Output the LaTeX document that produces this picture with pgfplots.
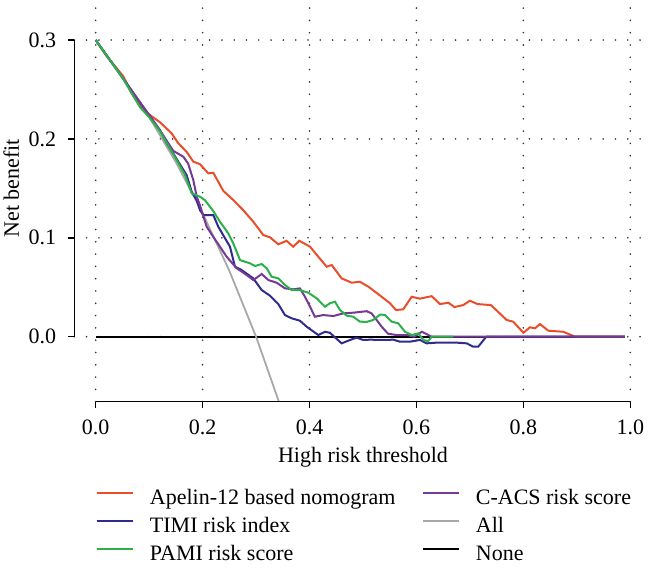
\documentclass[border=0pt]{standalone}
\usepackage{fontspec}
\setmainfont{Liberation Serif}
\usepackage{pgfplots}
\pgfplotsset{compat=1.18}
\definecolor{cred}{RGB}{232,78,42}
\definecolor{cblue}{RGB}{48,44,142}
\definecolor{cgreen}{RGB}{44,176,74}
\definecolor{cpurple}{RGB}{118,58,148}
\definecolor{cgray}{RGB}{168,168,168}
\newcommand{\fs}{\fontsize{11}{13}\selectfont}
\begin{document}
\begin{tikzpicture}
\useasboundingbox (-37.15pt,-89.65pt) rectangle (287.85pt,200.85pt);
\begin{axis}[
  scale only axis, width=288.7pt, height=200.85pt,
  xmin=-0.04, xmax=1.04, ymin=-0.0657, ymax=0.3405,
  clip mode=individual,
  axis line style={draw=none},
  xtick={0,0.2,0.4,0.6,0.8,1}, xticklabels={0.0,0.2,0.4,0.6,0.8,1.0},
  ytick={0,0.1,0.2,0.3}, yticklabels={0.0,0.1,0.2,0.3},
  xtick pos=bottom, ytick pos=left,
  tick align=outside, major tick length=3.2pt,
  tick style={black, line width=0.75pt},
  grid=major,
  grid style={black!80, line width=0.9pt, line cap=round, dash pattern=on 0pt off 6.15pt},
  xticklabel style={font=\fs, inner sep=0pt, anchor=center, yshift=-9.45pt},
  yticklabel style={font=\fs, inner sep=0pt, anchor=east, xshift=-5.65pt},
  every axis x label/.style={at={(axis description cs:0.5,-0.1526)}, anchor=base, inner sep=0pt, font=\fs},
  every axis y label/.style={at={(axis description cs:-0.1091,0.531)}, rotate=90, anchor=center, inner sep=0pt, font=\fs},
  xlabel={High risk threshold}, ylabel={Net benefit},
  legend columns=2,
  legend cell align=left,
  legend image code/.code={\draw[#1] (0pt,3.4pt) -- (18pt,3.4pt);},
  legend style={at={(rel axis cs:0.037037,-0.2186)}, anchor=north west, draw=none, fill=none,
    inner sep=0pt, outer sep=0pt, font=\fs, row sep=4pt,
    nodes={inner sep=0pt, text height=7.5pt, text depth=2.5pt},
    /tikz/every odd column/.append style={column sep=8.15pt},
    /tikz/every even column/.append style={column sep=13pt}},
]
% None
\addplot[black, line width=1pt, forget plot] coordinates {(0,0) (0.99,0)};
% All
\addplot[cgray, line width=0.9pt, forget plot] coordinates {
(0,0.3) (0.05,0.2632) (0.1,0.2222) (0.15,0.1765) (0.2,0.125) (0.25,0.0667) (0.3,0) (0.35,-0.0769)};
% Apelin
\addplot[cred, line width=1pt, forget plot] coordinates {
(0,0.3) (0.02,0.284) (0.042,0.2697) (0.052,0.263) (0.058,0.2562) (0.0673,0.246) (0.08,0.236) (0.0966,0.226)
(0.12,0.217) (0.142,0.2057) (0.1546,0.1955) (0.17,0.187) (0.1826,0.177) (0.195,0.1745) (0.2107,0.1652)
(0.22,0.1658) (0.2387,0.1475) (0.2574,0.1382) (0.276,0.128) (0.2948,0.1163) (0.3135,0.1028) (0.326,0.1005)
(0.3416,0.0934) (0.357,0.097) (0.3696,0.091) (0.381,0.097) (0.401,0.091) (0.4164,0.0809) (0.432,0.0708)
(0.4415,0.0725) (0.46,0.059) (0.479,0.0546) (0.494,0.0556) (0.51,0.0506) (0.535,0.0404) (0.5505,0.0338)
(0.5617,0.027) (0.5754,0.0277) (0.591,0.0404) (0.6066,0.0385) (0.6285,0.041) (0.644,0.033) (0.6596,0.0344)
(0.671,0.0300) (0.6876,0.032) (0.70,0.0364) (0.7142,0.033) (0.7392,0.032) (0.753,0.0250) (0.7688,0.0169)
(0.781,0.0152) (0.80,0.004) (0.8124,0.0095) (0.8217,0.0085) (0.831,0.0128) (0.8466,0.0061) (0.8747,0.005)
(0.8966,0.0) (0.99,0)};
% TIMI
\addplot[cblue, line width=1pt, forget plot] coordinates {
(0,0.3) (0.05,0.262) (0.0954,0.2275) (0.12,0.209) (0.133,0.1955) (0.145,0.1854) (0.158,0.174) (0.170,0.1635)
(0.1796,0.1466) (0.189,0.138) (0.195,0.128) (0.2013,0.123) (0.22,0.123) (0.2294,0.1112) (0.242,0.0995)
(0.2512,0.091) (0.2606,0.0708) (0.273,0.0674) (0.2948,0.059) (0.3105,0.0472) (0.326,0.0415) (0.3416,0.033)
(0.354,0.0219) (0.3666,0.0186) (0.382,0.0162) (0.3947,0.0101) (0.4164,0.0017) (0.429,0.005) (0.438,0.004)
(0.46,-0.0067) (0.4757,-0.0033) (0.488,-0.001) (0.5006,-0.0033) (0.513,-0.003) (0.538,-0.0033) (0.5567,-0.003)
(0.569,-0.005) (0.588,-0.005) (0.6066,-0.0033) (0.619,-0.0067) (0.638,-0.006) (0.675,-0.006) (0.694,-0.0067)
(0.7063,-0.0101) (0.7157,-0.01) (0.728,-0.0017) (0.731,0) (0.99,0)};
% C-ACS
\addplot[cpurple, line width=1pt, forget plot] coordinates {
(0,0.3) (0.05,0.262) (0.0954,0.2275) (0.12,0.209) (0.145,0.188) (0.164,0.182) (0.173,0.175) (0.1826,0.1584)
(0.189,0.1416) (0.195,0.133) (0.2076,0.1112) (0.22,0.101) (0.2325,0.091) (0.245,0.0809) (0.2637,0.0692)
(0.2824,0.0624) (0.2948,0.0573) (0.3105,0.0634) (0.323,0.0573) (0.3386,0.0546) (0.354,0.0489) (0.3696,0.0479)
(0.382,0.0489) (0.3915,0.0404) (0.401,0.0303) (0.41,0.0202) (0.4257,0.0219) (0.4445,0.0209) (0.463,0.0236)
(0.482,0.0243) (0.507,0.0258) (0.516,0.0236) (0.5256,0.0169) (0.535,0.0101) (0.547,0.003) (0.563,0.0017)
(0.582,0.0017) (0.596,0) (0.61,0.005) (0.619,0.0027) (0.628,0) (0.99,0)};
% PAMI
\addplot[cgreen, line width=1pt, forget plot] coordinates {
(0,0.3) (0.05,0.262) (0.083,0.232) (0.1,0.222) (0.12,0.208) (0.1515,0.1787) (0.167,0.1635) (0.1796,0.145)
(0.195,0.1416) (0.2045,0.138) (0.22,0.127) (0.2325,0.1163) (0.248,0.1045) (0.2574,0.0944) (0.27,0.0775)
(0.2886,0.0742) (0.298,0.0715) (0.3105,0.0735) (0.32,0.0692) (0.329,0.0607) (0.3416,0.059) (0.354,0.0523)
(0.3666,0.0472) (0.382,0.0472) (0.3977,0.0445) (0.4134,0.0388) (0.429,0.0303) (0.438,0.0338) (0.4476,0.0354)
(0.457,0.027) (0.4695,0.0213) (0.482,0.0202) (0.4944,0.0152) (0.507,0.0150) (0.519,0.0169) (0.532,0.0224)
(0.541,0.022) (0.5537,0.0152) (0.566,0.0135) (0.5786,0.005) (0.591,0.0017) (0.6034,0.0034) (0.613,-0.0033)
(0.622,-0.0045) (0.6285,0.0) (0.669,0)};
% axis lines
\draw[black, line width=0.75pt] (axis cs:0,-0.0657) -- (axis cs:1,-0.0657);
\draw[black, line width=0.75pt] (axis cs:-0.04,0) -- (axis cs:-0.04,0.3);
% legend
\addlegendimage{cred, line width=1pt}\addlegendentry{Apelin-12 based nomogram}
\addlegendimage{cpurple, line width=1pt}\addlegendentry{C-ACS risk score}
\addlegendimage{cblue, line width=1pt}\addlegendentry{TIMI risk index}
\addlegendimage{cgray, line width=1pt}\addlegendentry{All}
\addlegendimage{cgreen, line width=1pt}\addlegendentry{PAMI risk score}
\addlegendimage{black, line width=1pt}\addlegendentry{None}
\end{axis}
\end{tikzpicture}
\end{document}
